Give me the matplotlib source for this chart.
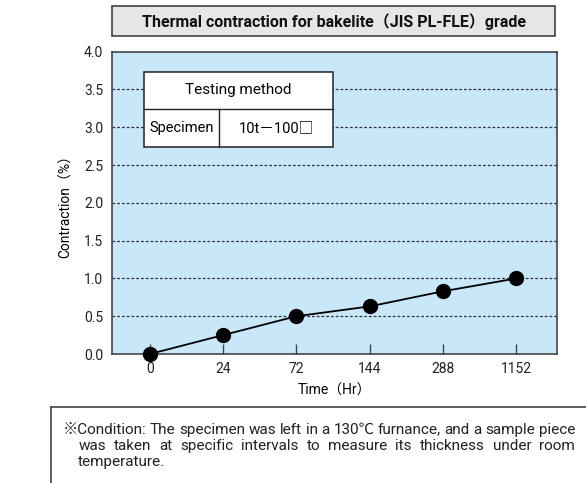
import matplotlib
matplotlib.use("Agg")
import matplotlib.pyplot as plt
from matplotlib.patches import Rectangle
from matplotlib.lines import Line2D

# ---- data ----
time_labels = ["0", "24", "72", "144", "288", "1152"]
contraction = [0.0, 0.25, 0.5, 0.63, 0.83, 1.0]
yticks = [0.0, 0.5, 1.0, 1.5, 2.0, 2.5, 3.0, 3.5, 4.0]
title = "Thermal contraction for bakelite（JIS PL-FLE）grade"
xlabel = "Time（Hr）"
ylabel = "Contraction（%）"
table_head = "Testing method"
table_row = ["Specimen", "10t－100□"]
note_lines = [
    "※Condition: The specimen was left in a 130℃ furnance, and a sample piece",
    "was taken at specific intervals to measure its thickness under room",
    "temperature.",
]

FAM = ["Roboto", "Noto Sans CJK JP", "DejaVu Sans"]
plt.rcParams["font.family"] = FAM

W, H = 586, 483
fig = plt.figure(figsize=(W / 100, H / 100), dpi=100)

def fx(px):
    return px / W

def fy(py):
    return 1 - py / H

# axes
L, R, T, B = 111.7, 556.7, 51.7, 354.0
ax = fig.add_axes([fx(L), fy(B), fx(R) - fx(L), fy(T) - fy(B)])
ax.set_facecolor("#c8e8fa")
x = list(range(len(time_labels)))
ax.plot(x, contraction, color="black", lw=1.3, marker="o", ms=10, zorder=5, clip_on=False)
ax.set_xlim(-0.52, 5.55)
ax.set_ylim(0, 4.0)
ax.set_xticks(x)
ax.set_xticklabels(time_labels, fontsize=10, color="#222222")
ax.set_yticks(yticks)
ax.set_yticklabels([f"{v:.1f}" for v in yticks], fontsize=10, color="#222222")
ax.tick_params(axis="x", direction="in", length=7, width=1, color="#444444", pad=6)
ax.tick_params(axis="y", length=0, pad=6)
for v in yticks[1:-1]:
    ax.axhline(v, color="#333333", lw=0.9, ls=(0, (2.2, 1.6)), zorder=1)
for s in ax.spines.values():
    s.set_color("#444444")
    s.set_linewidth(1.2)
ax.set_xlabel(xlabel, fontsize=10, labelpad=5)
ax.set_ylabel(ylabel, fontsize=10, labelpad=8)

# testing method table (axes fraction)
tl, tr, tt, tm, tb, tc = 0.0726, 0.4966, 0.934, 0.8095, 0.6858, 0.2418
ax.add_patch(Rectangle((tl, tb), tr - tl, tt - tb, transform=ax.transAxes,
                       facecolor="white", edgecolor="#222222", lw=1.1, zorder=6))
ax.add_line(Line2D([tl, tr], [tm, tm], transform=ax.transAxes, color="#222222", lw=1.0, zorder=7))
ax.add_line(Line2D([tc, tc], [tb, tm], transform=ax.transAxes, color="#222222", lw=1.0, zorder=7))
ax.text((tl + tr) / 2, (tt + tm) / 2, table_head, transform=ax.transAxes, ha="center",
        va="center", fontsize=11, zorder=8)
ax.text((tl + tc) / 2, (tm + tb) / 2, table_row[0], transform=ax.transAxes, ha="center",
        va="center", fontsize=10.5, zorder=8)
ax.text((tc + tr) / 2, (tm + tb) / 2, table_row[1], transform=ax.transAxes, ha="center",
        va="center", fontsize=10.5, zorder=8)

# title box
fig.patches.append(Rectangle((fx(112), fy(36)), fx(555) - fx(112), fy(6) - fy(36),
                             transform=fig.transFigure, facecolor="#e6e6e6",
                             edgecolor="#333333", lw=1.1))
fig.text(fx(333.5), fy(21.5), title, ha="center", va="center", fontsize=11.5,
         fontweight="bold", color="#111111")

# note box (left + top borders, runs off the figure)
fig.add_artist(Line2D([fx(51), fx(51)], [fy(407), fy(490)], transform=fig.transFigure,
                      color="#444444", lw=1.2))
fig.add_artist(Line2D([fx(51), fx(590)], [fy(407), fy(407)], transform=fig.transFigure,
                      color="#444444", lw=1.2))

renderer = fig.canvas.get_renderer()
NFS = 11

def justify(line, x0, x1, ybase):
    words = line.split(" ")
    objs = [fig.text(0, fy(ybase), w, fontsize=NFS, va="baseline", ha="left", color="#222222")
            for w in words]
    widths = [o.get_window_extent(renderer).width for o in objs]
    gap = max((x1 - x0 - sum(widths)) / (len(words) - 1), 2.0)
    cur = x0
    for o, wd in zip(objs, widths):
        o.set_x(fx(cur))
        cur += wd + gap

justify(note_lines[0], 62.7, 575, 434)
justify(note_lines[1], 78.3, 575, 450)
fig.text(fx(78.3), fy(466), note_lines[2], fontsize=NFS, va="baseline", ha="left", color="#222222")

fig.savefig("out.png", dpi=100)
